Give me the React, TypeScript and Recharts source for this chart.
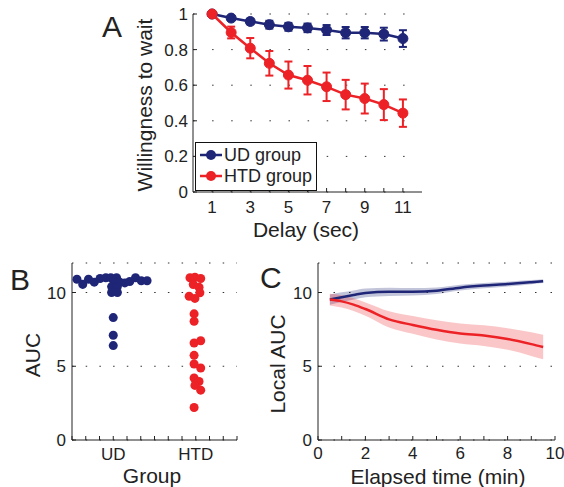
import React from 'react'
import {
  LineChart,
  Line,
  ErrorBar,
  ScatterChart,
  Scatter,
  ComposedChart,
  Area,
  XAxis,
  YAxis,
  ZAxis,
  CartesianGrid,
  Label
} from 'recharts'

const NAVY = '#1f2677'
const RED = '#ec2227'
const INK = '#222'
const FONT = '"Liberation Sans", Arial, Helvetica, sans-serif'

// Panel A: willingness to wait per delay
const delays = [1, 2, 3, 4, 5, 6, 7, 8, 9, 10, 11]
const udWait = [1.0, 0.977, 0.958, 0.94, 0.928, 0.922, 0.91, 0.895, 0.895, 0.887, 0.862]
const udWaitErr = [0, 0.012, 0.016, 0.022, 0.022, 0.024, 0.028, 0.032, 0.032, 0.036, 0.047]
const htdWait = [1.0, 0.896, 0.808, 0.723, 0.657, 0.628, 0.591, 0.547, 0.525, 0.491, 0.443]
const htdWaitErr = [0, 0.033, 0.057, 0.069, 0.076, 0.08, 0.08, 0.083, 0.084, 0.087, 0.077]
const waitTicks = [0, 0.2, 0.4, 0.6, 0.8, 1]

// Panel B: AUC per subject (x = swarm position around the group)
const groups = ['UD', 'HTD']
const udAucX = [0.56, 0.63, 0.7, 0.77, 0.84, 0.91, 0.97, 1.04, 1.01, 1.08, 1.14, 1.2, 1.27, 1.34, 1.41, 0.98, 1.05, 0.98, 1.05, 1.0, 1.0, 1.0]
const udAucY = [10.9, 10.55, 10.9, 10.7, 10.95, 11.0, 11.0, 11.0, 10.75, 10.7, 10.65, 10.75, 11.0, 10.8, 10.8, 10.4, 10.4, 10.0, 10.0, 8.3, 7.1, 6.4]
const htdAucX = [1.93, 1.99, 2.06, 1.97, 2.04, 2.05, 1.92, 1.99, 1.98, 1.98, 1.98, 2.06, 1.98, 1.98, 2.06, 1.98, 2.04, 1.99, 2.06, 1.98]
const htdAucY = [11.0, 11.04, 10.95, 10.54, 10.36, 9.98, 9.75, 9.6, 8.55, 8.05, 6.58, 6.73, 5.74, 5.15, 4.88, 4.2, 3.97, 3.7, 3.38, 2.2]
const aucTicks = [0, 5, 10]

// Panel C: local AUC over elapsed time
const elapsed = [0.5, 1, 1.5, 2, 3, 4, 5, 6, 7, 8, 9, 9.5]
const udLocal = [9.52, 9.68, 9.83, 9.97, 10.05, 10.05, 10.12, 10.33, 10.47, 10.57, 10.7, 10.77]
const udLocalSem = [0.35, 0.33, 0.31, 0.3, 0.28, 0.25, 0.22, 0.2, 0.18, 0.16, 0.14, 0.13]
const htdLocal = [9.52, 9.4, 9.18, 8.88, 8.18, 7.8, 7.47, 7.22, 7.08, 6.85, 6.5, 6.3]
const htdLocalSem = [0.4, 0.42, 0.43, 0.45, 0.55, 0.6, 0.65, 0.68, 0.7, 0.73, 0.8, 0.83]
const elapsedTicks = [0, 1, 2, 3, 4, 5, 6, 7, 8, 9, 10]

const waitRows = delays.map((d, i) => ({
  delay: d,
  ud: udWait[i],
  udErr: udWaitErr[i],
  htd: htdWait[i],
  htdErr: htdWaitErr[i]
}))
const udAucRows = udAucX.map((x, i) => ({ x, y: udAucY[i] }))
const htdAucRows = htdAucX.map((x, i) => ({ x, y: htdAucY[i] }))
const localRows = elapsed.map((t, i) => ({
  t,
  ud: udLocal[i],
  udBand: [udLocal[i] - udLocalSem[i], udLocal[i] + udLocalSem[i]],
  htd: htdLocal[i],
  htdBand: [htdLocal[i] - htdLocalSem[i], htdLocal[i] + htdLocalSem[i]]
}))
const groupTicks = Array.from({ length: 13 }, (_, i) => 0.5 + i / 6)

const tickStyle = { fill: INK, fontSize: 17 }

// vertical axis title plus the panel letter, placed in chart coordinates
const sideTitle = (text: string, x: number, y: number, letter: string, lx: number, ly: number) => () => (
  <g>
    <text x={x} y={y} transform={`rotate(-90 ${x} ${y})`} textAnchor="middle" fontSize={21} fill={INK}>
      {text}
    </text>
    <text x={lx} y={ly} fontSize={30} fill={INK}>
      {letter}
    </text>
  </g>
)

const bottomTitle = (text: string, x: number, y: number) => () => (
  <text x={x} y={y} textAnchor="middle" fontSize={21} fill={INK}>
    {text}
  </text>
)

const legendItems = [
  { name: 'UD group', color: NAVY },
  { name: 'HTD group', color: RED }
]

export default function App() {
  return (
    <div
      style={{
        position: 'absolute',
        left: 0,
        top: 0,
        width: 564,
        height: 487,
        background: '#fff',
        fontFamily: FONT,
        overflow: 'hidden'
      }}
    >
      {/* A */}
      <div style={{ position: 'absolute', left: 0, top: 0 }}>
        <LineChart width={440} height={245} data={waitRows} margin={{ top: 14, right: 18, left: 0, bottom: 0 }}>
          <CartesianGrid vertical={false} stroke="#333" strokeDasharray="1.5 17.6" />
          <XAxis
            type="number"
            dataKey="delay"
            domain={[0, 12]}
            ticks={delays}
            interval={0}
            tickFormatter={(v: number) => (v % 2 === 1 ? String(v) : '')}
            tickSize={-4}
            tickMargin={13}
            height={53}
            stroke={INK}
            tick={tickStyle}
          >
            <Label content={bottomTitle('Delay (sec)', 306, 237)} />
          </XAxis>
          <YAxis
            type="number"
            domain={[0, 1]}
            ticks={waitTicks}
            interval={0}
            width={193}
            tickSize={-4}
            tickMargin={9}
            stroke={INK}
            tick={tickStyle}
          >
            <Label content={sideTitle('Willingness to wait', 152, 105, 'A', 102, 37)} />
          </YAxis>
          <Line
            dataKey="ud"
            stroke={NAVY}
            strokeWidth={2.5}
            dot={{ r: 5, fill: NAVY, stroke: NAVY, strokeWidth: 1 }}
            isAnimationActive={false}
          >
            <ErrorBar dataKey="udErr" direction="y" width={4} strokeWidth={2} stroke={NAVY} />
          </Line>
          <Line
            dataKey="htd"
            stroke={RED}
            strokeWidth={2.5}
            dot={{ r: 5, fill: RED, stroke: RED, strokeWidth: 1 }}
            isAnimationActive={false}
          >
            <ErrorBar dataKey="htdErr" direction="y" width={4} strokeWidth={2} stroke={RED} />
          </Line>
        </LineChart>
      </div>

      {/* A legend */}
      <div
        style={{
          position: 'absolute',
          left: 195,
          top: 142,
          width: 122,
          height: 49,
          border: '1.5px solid #111',
          background: '#fff',
          boxSizing: 'border-box'
        }}
      >
        <svg width={119} height={46}>
          {legendItems.map((item, i) => (
            <g key={item.name}>
              <line x1={4} x2={26} y1={12 + i * 21} y2={12 + i * 21} stroke={item.color} strokeWidth={2.5} />
              <circle cx={15} cy={12 + i * 21} r={5} fill={item.color} />
              <text x={28} y={12 + i * 21} dominantBaseline="central" fontSize={18} fill={INK}>
                {item.name}
              </text>
            </g>
          ))}
        </svg>
      </div>

      {/* B */}
      <div style={{ position: 'absolute', left: 0, top: 250 }}>
        <ScatterChart width={250} height={237} margin={{ top: 13, right: 13, left: 0, bottom: 0 }}>
          <CartesianGrid vertical={false} stroke="#333" strokeDasharray="1.5 12.2" />
          <XAxis
            type="number"
            dataKey="x"
            domain={[0.5, 2.5]}
            ticks={groupTicks}
            interval={0}
            tickFormatter={(v: number) => {
              const k = groups.findIndex((_, g) => Math.abs(v - (g + 1)) < 1e-6)
              return k >= 0 ? groups[k] : ''
            }}
            tickSize={-4}
            tickMargin={12}
            height={47}
            stroke={INK}
            tick={tickStyle}
          >
            <Label content={bottomTitle('Group', 152, 233)} />
          </XAxis>
          <YAxis
            type="number"
            dataKey="y"
            domain={[0, 12]}
            ticks={aucTicks}
            interval={0}
            width={72}
            tickSize={-4}
            tickMargin={10}
            stroke={INK}
            tick={tickStyle}
          >
            <Label content={sideTitle('AUC', 40, 105, 'B', 10, 40)} />
          </YAxis>
          <ZAxis range={[82, 82]} />
          <Scatter data={udAucRows} fill={NAVY} isAnimationActive={false} />
          <Scatter data={htdAucRows} fill={RED} isAnimationActive={false} />
        </ScatterChart>
      </div>

      {/* C */}
      <div style={{ position: 'absolute', left: 250, top: 250 }}>
        <ComposedChart width={314} height={237} data={localRows} margin={{ top: 13, right: 9, left: 0, bottom: 0 }}>
          <CartesianGrid vertical={false} stroke="#333" strokeDasharray="1.5 14" />
          <XAxis
            type="number"
            dataKey="t"
            domain={[0, 10]}
            ticks={elapsedTicks}
            interval={0}
            tickFormatter={(v: number) => (v % 2 === 0 ? String(v) : '')}
            tickSize={-4}
            tickMargin={11}
            height={47}
            stroke={INK}
            tick={tickStyle}
          >
            <Label content={bottomTitle('Elapsed time (min)', 188, 234)} />
          </XAxis>
          <YAxis
            type="number"
            domain={[0, 12]}
            ticks={aucTicks}
            interval={0}
            width={68}
            tickSize={-4}
            tickMargin={10}
            stroke={INK}
            tick={tickStyle}
          >
            <Label content={sideTitle('Local AUC', 35, 114, 'C', 10, 38)} />
          </YAxis>
          <Area
            type="monotone"
            dataKey="udBand"
            stroke="none"
            fill={NAVY}
            fillOpacity={0.27}
            isAnimationActive={false}
          />
          <Area
            type="monotone"
            dataKey="htdBand"
            stroke="none"
            fill={RED}
            fillOpacity={0.26}
            isAnimationActive={false}
          />
          <Line type="monotone" dataKey="ud" stroke={NAVY} strokeWidth={2.5} dot={false} isAnimationActive={false} />
          <Line type="monotone" dataKey="htd" stroke={RED} strokeWidth={2.5} dot={false} isAnimationActive={false} />
        </ComposedChart>
      </div>
    </div>
  )
}
